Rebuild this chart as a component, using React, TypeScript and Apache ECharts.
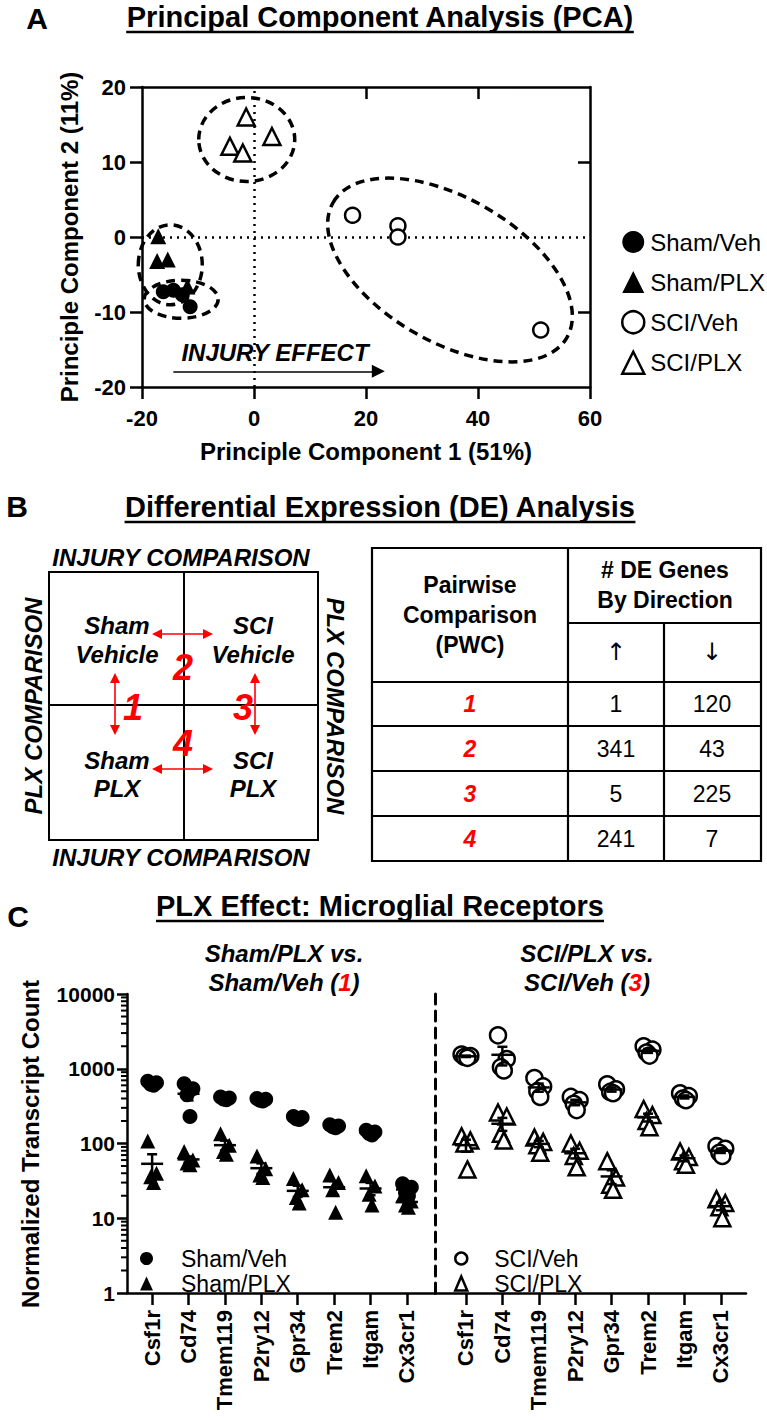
import React, { useEffect, useRef } from "react";
import * as echarts from "echarts";

const FONT = 'Arial, "Liberation Sans", Helvetica, sans-serif';
const RED = "#ff0000";

// ---------- Panel A: PCA scores (PC1, PC2) ----------
const pcaShamVeh = [[-16.2, -7.3], [-14.4, -7.1], [-12.8, -7.7], [-11.4, -9.3]];
const pcaShamPlx = [[-17.1, 0.1], [-17.3, -3.2], [-15.4, -3.0], [-11.9, -6.6]];
const pcaSciVeh = [[17.6, 2.9], [25.7, 1.5], [25.7, 0.0], [51.2, -12.4]];
const pcaSciPlx = [[-1.4, 16.0], [-4.3, 12.1], [-2.0, 11.2], [3.2, 13.4]];
// group outlines: centre in PC units, radii in px, rotation in degrees
const pcaGroupOutlines = [
  { cx: -1.3, cy: 13.0, rx: 48, ry: 42, rot: 0 },
  { cx: -14.95, cy: -3.7, rx: 32, ry: 40, rot: 0 },
  { cx: -13.0, cy: -8.3, rx: 37, ry: 19, rot: 0 },
  { cx: 35.0, cy: -4.4, rx: 135, ry: 72, rot: -30 },
];
const injuryArrowFrom = [-14.4, -17.9];
const injuryArrowTo = [22.2, -17.9];

// ---------- Panel B: DE table ----------
const pwcIds = ["1", "2", "3", "4"];
const deUp = [1, 341, 5, 241];
const deDown = [120, 43, 225, 7];

// ---------- Panel C: normalized transcript counts ----------
const genes = ["Csf1r", "Cd74", "Tmem119", "P2ry12", "Gpr34", "Trem2", "Itgam", "Cx3cr1"];
const shamVeh = [
  [680, 650, 620, 600], [630, 540, 450, 230], [420, 405, 395, 385], [400, 390, 380, 370],
  [230, 222, 215, 210], [178, 172, 168, 162], [150, 142, 136, 130], [29, 26, 22, 20],
];
const shamPlx = [
  [108, 40, 36, 30], [78, 60, 55, 52], [135, 95, 78, 72], [68, 46, 38, 35],
  [34, 24, 19, 16], [38, 30, 24, 12], [37, 27, 21, 15], [20, 17, 15, 14],
];
const sciVeh = [
  [1550, 1480, 1440, 1400], [2800, 1350, 1050, 950], [750, 580, 500, 420], [420, 380, 340, 280],
  [620, 530, 490, 470], [2000, 1800, 1650, 1500], [470, 430, 400, 380], [92, 85, 75, 68],
];
const sciPlx = [
  [125, 110, 100, 45], [260, 230, 135, 110], [120, 105, 95, 75], [100, 80, 68, 48],
  [58, 35, 28, 24], [290, 240, 200, 165], [78, 66, 58, 52], [18, 16, 14, 10],
];
const logMinorTicks = [2, 3, 4, 5, 6, 7, 8, 9, 20, 30, 40, 50, 60, 70, 80, 90, 200, 300, 400, 500, 600, 700, 800, 900, 2000, 3000, 4000, 5000, 6000, 7000, 8000, 9000];

const JITTER = [-0.12, 0.12, -0.04, 0.04];
const CL_MIN = -0.69, CL_MAX = 7.77, CR_MIN = -0.85, CR_MAX = 7.69;

function toPoints(vals: number[][]) {
  return vals.flatMap((reps, i) => reps.map((v, j) => [i + JITTER[j], v]));
}
function toMeanSem(vals: number[][]) {
  return vals.map((reps, i) => {
    const n = reps.length;
    const m = reps.reduce((a, b) => a + b, 0) / n;
    const sd = Math.sqrt(reps.reduce((a, b) => a + (b - m) * (b - m), 0) / (n - 1));
    return [i, m, sd / Math.sqrt(n)];
  });
}

const meanRender = (params: any, api: any) => {
  const x = api.value(0), m = api.value(1), s = api.value(2);
  const c = api.coord([x, m]);
  const t = api.coord([x, m + s]);
  const b = api.coord([x, Math.max(m - s, 1.0001)]);
  const st = { stroke: "#000", lineWidth: 2.5 };
  return {
    type: "group",
    children: [
      { type: "line", shape: { x1: c[0] - 11, y1: c[1], x2: c[0] + 11, y2: c[1] }, style: st },
      { type: "line", shape: { x1: c[0], y1: t[1], x2: c[0], y2: b[1] }, style: st },
      { type: "line", shape: { x1: c[0] - 5, y1: t[1], x2: c[0] + 5, y2: t[1] }, style: st },
      { type: "line", shape: { x1: c[0] - 5, y1: b[1], x2: c[0] + 5, y2: b[1] }, style: st },
    ],
  };
};

// ---------- graphic helpers ----------
function T(x: number, y: number, text: string, size: number, o: any = {}) {
  const style: any = {
    text, x: 0, y: 0, fill: o.color || "#000", fontSize: size,
    fontWeight: o.bold ? "bold" : "normal", fontStyle: o.italic ? "italic" : "normal",
    fontFamily: o.family || FONT, align: o.align || "center", verticalAlign: "middle",
  };
  if (o.rich) style.rich = o.rich;
  return { type: "text", x, y, rotation: o.rotation || 0, silent: true, z: 100, style };
}
function L(x1: number, y1: number, x2: number, y2: number, w = 2, color = "#000") {
  return { type: "line", silent: true, z: 90, shape: { x1, y1, x2, y2 }, style: { stroke: color, lineWidth: w } };
}
function redArrow(x1: number, y1: number, x2: number, y2: number) {
  const horiz = y1 === y2;
  const h = 10, w = 5;
  const els: any[] = [];
  if (horiz) {
    els.push(L(x1 + h - 2, y1, x2 - h + 2, y2, 1.6, RED));
    els.push({ type: "polygon", silent: true, z: 90, shape: { points: [[x1, y1], [x1 + h, y1 - w], [x1 + h, y1 + w]] }, style: { fill: RED } });
    els.push({ type: "polygon", silent: true, z: 90, shape: { points: [[x2, y2], [x2 - h, y2 - w], [x2 - h, y2 + w]] }, style: { fill: RED } });
  } else {
    els.push(L(x1, y1 + h - 2, x2, y2 - h + 2, 1.6, RED));
    els.push({ type: "polygon", silent: true, z: 90, shape: { points: [[x1, y1], [x1 - w, y1 + h], [x1 + w, y1 + h]] }, style: { fill: RED } });
    els.push({ type: "polygon", silent: true, z: 90, shape: { points: [[x2, y2], [x2 - w, y2 - h], [x2 + w, y2 - h]] }, style: { fill: RED } });
  }
  return els;
}
function measure(text: string, font: string) {
  const c = document.createElement("canvas").getContext("2d")!;
  c.font = font;
  return c.measureText(text).width;
}
function titleWithUnderline(cx: number, cy: number, text: string, uy: number) {
  const w = measure(text, `bold 29px ${FONT}`);
  return [T(cx, cy, text, 29, { bold: true }), L(cx - w / 2, uy, cx + w / 2, uy, 2.5)];
}

function buildGraphics() {
  const g: any[] = [];
  // Panel letters and titles
  g.push(T(37, 18, "A", 30, { bold: true }));
  g.push(T(17, 506, "B", 30, { bold: true }));
  g.push(T(18, 916, "C", 30, { bold: true }));
  g.push(...titleWithUnderline(380, 17, "Principal Component Analysis (PCA)", 32));
  g.push(...titleWithUnderline(380, 507, "Differential Expression (DE) Analysis", 522));
  g.push(...titleWithUnderline(380, 906, "PLX Effect: Microglial Receptors", 921));

  // Panel A annotations
  g.push(T(69, 237, "Principle Component 2 (11%)", 24, { bold: true, rotation: Math.PI / 2 }));
  g.push(T(366, 451, "Principle Component 1 (51%)", 24, { bold: true }));
  g.push(T(275, 352, "INJURY EFFECT", 24, { bold: true, italic: true }));

  // Panel B quadrant diagram
  g.push({ type: "rect", silent: true, z: 90, shape: { x: 49, y: 572, width: 269, height: 268 }, style: { fill: "none", stroke: "#000", lineWidth: 2 } });
  g.push(L(184, 572, 184, 840, 2));
  g.push(L(49, 705, 318, 705, 2));
  g.push(T(181, 557, "INJURY COMPARISON", 24, { bold: true, italic: true }));
  g.push(T(181, 857, "INJURY COMPARISON", 24, { bold: true, italic: true }));
  g.push(T(33, 706, "PLX COMPARISON", 24, { bold: true, italic: true, rotation: Math.PI / 2 }));
  g.push(T(335, 706, "PLX COMPARISON", 24, { bold: true, italic: true, rotation: -Math.PI / 2 }));
  const q = { bold: true, italic: true };
  g.push(T(117, 625, "Sham", 24, q), T(117, 654, "Vehicle", 24, q));
  g.push(T(253, 625, "SCI", 24, q), T(253, 654, "Vehicle", 24, q));
  g.push(T(117, 760, "Sham", 24, q), T(117, 788, "PLX", 24, q));
  g.push(T(253, 760, "SCI", 24, q), T(253, 788, "PLX", 24, q));
  g.push(...redArrow(152, 634, 213, 634));
  g.push(...redArrow(152, 769, 213, 769));
  g.push(...redArrow(115, 673, 115, 735));
  g.push(...redArrow(255, 673, 255, 735));
  const rq = { bold: true, italic: true, color: RED };
  g.push(T(183, 667, "2", 36, rq), T(133, 707, "1", 36, rq), T(243, 707, "3", 36, rq), T(183, 743, "4", 36, rq));

  // Panel B table
  const xs = [372, 568, 664, 761];
  const rows = [682, 726, 771, 816, 861];
  g.push({ type: "rect", silent: true, z: 90, shape: { x: 372, y: 548, width: 389, height: 313 }, style: { fill: "none", stroke: "#000", lineWidth: 2.2 } });
  g.push(L(xs[1], 548, xs[1], 861, 2.2));
  g.push(L(xs[2], 623, xs[2], 861, 2.2));
  g.push(L(xs[1], 623, xs[3], 623, 2.2));
  rows.slice(0, 4).forEach((y) => g.push(L(372, y, 761, y, 2.2)));
  g.push(T(470, 585, "Pairwise", 23, { bold: true }), T(470, 615, "Comparison", 23, { bold: true }), T(470, 645, "(PWC)", 23, { bold: true }));
  g.push(T(665, 570, "# DE Genes", 23, { bold: true }), T(665, 600, "By Direction", 23, { bold: true }));
  const arrowFamily = '"DejaVu Sans", "Liberation Sans", sans-serif';
  g.push(T(616, 652, "\u2191", 24, { family: arrowFamily }), T(712, 652, "\u2193", 24, { family: arrowFamily }));
  pwcIds.forEach((id, i) => {
    const cy = (rows[i] + rows[i + 1]) / 2;
    g.push(T(470, cy, id, 23, { bold: true, italic: true, color: RED }));
    g.push(T(616, cy, String(deUp[i]), 23));
    g.push(T(712, cy, String(deDown[i]), 23));
  });

  // Panel C headings
  const rich = {
    b: { fontSize: 24, fontWeight: "bold", fontStyle: "italic", fontFamily: FONT, fill: "#000", color: "#000" },
    r: { fontSize: 24, fontWeight: "bold", fontStyle: "italic", fontFamily: FONT, fill: RED, color: RED },
  };
  g.push(T(284, 953, "Sham/PLX vs.", 24, { bold: true, italic: true }));
  g.push(T(284, 982, "{b|Sham/Veh (}{r|1}{b|)}", 24, { bold: true, italic: true, rich }));
  g.push(T(587, 953, "SCI/PLX vs.", 24, { bold: true, italic: true }));
  g.push(T(587, 982, "{b|SCI/Veh (}{r|3}{b|)}", 24, { bold: true, italic: true, rich }));
  g.push(T(30, 1144, "Normalized Transcript Count", 24, { bold: true, rotation: Math.PI / 2 }));
  return g;
}

const black = "#000";
const axisLineA = { show: true, onZero: false, lineStyle: { color: black, width: 2.5 } };
const labelBold = (size: number, margin: number) => ({ color: black, fontSize: size, fontWeight: "bold", fontFamily: FONT, margin });

const filledStyle = { color: black, opacity: 1 };
const openStyle = { color: "#fff", borderColor: black, borderWidth: 2.5, opacity: 1 };

const option: any = {
  animation: false,
  backgroundColor: "#fff",
  grid: [
    { left: 142, top: 87, width: 448, height: 300 },
    { left: 127, top: 994, width: 308, height: 299 },
    { left: 435, top: 994, width: 311, height: 299 },
  ],
  xAxis: [
    {
      gridIndex: 0, type: "value", min: -20, max: 60, interval: 20, position: "bottom",
      axisLine: axisLineA, axisTick: { show: true, length: 12, lineStyle: { color: black, width: 2.5 } },
      axisLabel: labelBold(22, 20), splitLine: { show: false },
    },
    {
      gridIndex: 0, type: "value", min: -20, max: 60, interval: 20, position: "top",
      axisLine: axisLineA, axisTick: { show: true, inside: true, length: 12, customValues: [20, 40], lineStyle: { color: black, width: 2.5 } },
      axisLabel: { show: false }, splitLine: { show: false },
    },
    {
      gridIndex: 1, type: "value", min: CL_MIN, max: CL_MAX, position: "bottom",
      axisLine: axisLineA,
      axisTick: { show: true, length: 12, customValues: genes.map((_, i) => i), lineStyle: { color: black, width: 2.5 } },
      axisLabel: { ...labelBold(22, 17), rotate: 90, customValues: genes.map((_, i) => i), formatter: (v: number) => genes[Math.round(v)] ?? "" },
      splitLine: { show: false },
    },
    {
      gridIndex: 2, type: "value", min: CR_MIN, max: CR_MAX, position: "bottom",
      axisLine: axisLineA,
      axisTick: { show: true, length: 12, customValues: genes.map((_, i) => i), lineStyle: { color: black, width: 2.5 } },
      axisLabel: { ...labelBold(22, 17), rotate: 90, customValues: genes.map((_, i) => i), formatter: (v: number) => genes[Math.round(v)] ?? "" },
      splitLine: { show: false },
    },
  ],
  yAxis: [
    {
      gridIndex: 0, type: "value", min: -20, max: 20, interval: 10, position: "left",
      axisLine: axisLineA, axisTick: { show: true, length: 12, lineStyle: { color: black, width: 2.5 } },
      axisLabel: labelBold(22, 16), splitLine: { show: false },
    },
    {
      gridIndex: 0, type: "value", min: -20, max: 20, interval: 10, position: "right",
      axisLine: axisLineA, axisTick: { show: true, inside: true, length: 12, customValues: [-10, 10], lineStyle: { color: black, width: 2.5 } },
      axisLabel: { show: false }, splitLine: { show: false },
    },
    {
      gridIndex: 1, type: "log", logBase: 10, min: 1, max: 10000, position: "left",
      axisLine: axisLineA, axisTick: { show: true, length: 10, lineStyle: { color: black, width: 2.5 } },
      axisLabel: { ...labelBold(21, 12), formatter: (v: number) => String(Math.round(v)) },
      splitLine: { show: false },
    },
    {
      gridIndex: 2, type: "log", logBase: 10, min: 1, max: 10000, position: "left",
      axisLine: { show: true, onZero: false, lineStyle: { color: black, width: 3, type: [10, 7] } },
      axisTick: { show: false }, axisLabel: { show: false }, splitLine: { show: false },
    },
  ],
  legend: [
    {
      orient: "vertical", left: 616, top: 225, itemWidth: 22, itemHeight: 22, itemGap: 16, selectedMode: false,
      textStyle: { fontSize: 24, fontFamily: FONT, color: black, padding: [0, 0, 0, 1] },
      data: [
        { name: "Sham/Veh", icon: "circle", itemStyle: { color: black, borderWidth: 0 } },
        { name: "Sham/PLX", icon: "triangle", itemStyle: { color: black, borderWidth: 0 } },
        { name: "SCI/Veh", icon: "circle", itemStyle: { color: "#fff", borderColor: black, borderWidth: 2.5 } },
        { name: "SCI/PLX", icon: "triangle", itemStyle: { color: "#fff", borderColor: black, borderWidth: 2.5 } },
      ],
    },
    {
      orient: "vertical", left: 135, top: 1242, itemWidth: 13, itemHeight: 14, itemGap: 2, selectedMode: false,
      textStyle: { fontSize: 23, fontFamily: FONT, color: black, padding: [0, 0, 0, 23] },
      data: [
        { name: "Sham/Veh", icon: "circle", itemStyle: { color: black, borderWidth: 0 } },
        { name: "Sham/PLX", icon: "triangle", itemStyle: { color: black, borderWidth: 0 } },
      ],
    },
    {
      orient: "vertical", left: 449, top: 1242, itemWidth: 12, itemHeight: 14, itemGap: 2, selectedMode: false,
      textStyle: { fontSize: 23, fontFamily: FONT, color: black, padding: [0, 0, 0, 22] },
      data: [
        { name: "SCI/Veh", icon: "circle", itemStyle: { color: "#fff", borderColor: black, borderWidth: 2.5 } },
        { name: "SCI/PLX", icon: "triangle", itemStyle: { color: "#fff", borderColor: black, borderWidth: 2.5 } },
      ],
    },
  ],
  series: [
    // Panel A
    {
      name: "Sham/Veh", type: "scatter", xAxisIndex: 0, yAxisIndex: 0, data: pcaShamVeh,
      symbol: "circle", symbolSize: 15, itemStyle: filledStyle, z: 10,
      markLine: {
        silent: true, symbol: "none", label: { show: false },
        lineStyle: { color: black, width: 2.5, type: [2, 5], opacity: 1 },
        data: [{ xAxis: 0 }, { yAxis: 0 }],
      },
    },
    { name: "Sham/PLX", type: "scatter", xAxisIndex: 0, yAxisIndex: 0, data: pcaShamPlx, symbol: "triangle", symbolSize: 16, itemStyle: filledStyle, z: 10 },
    { name: "SCI/Veh", type: "scatter", xAxisIndex: 0, yAxisIndex: 0, data: pcaSciVeh, symbol: "circle", symbolSize: 15, itemStyle: openStyle, z: 10 },
    {
      name: "SCI/PLX", type: "scatter", xAxisIndex: 0, yAxisIndex: 0, data: pcaSciPlx, symbol: "triangle", symbolSize: 17, itemStyle: openStyle, z: 10,
      markLine: {
        silent: true, symbol: ["none", "triangle"], symbolSize: 13, label: { show: false },
        itemStyle: { color: black },
        lineStyle: { color: black, width: 1.5, type: "solid", opacity: 1 },
        data: [[{ coord: injuryArrowFrom }, { coord: injuryArrowTo }]],
      },
    },
    // Panel C left
    { name: "Sham/Veh", type: "scatter", xAxisIndex: 2, yAxisIndex: 2, data: toPoints(shamVeh), symbol: "circle", symbolSize: 15, itemStyle: filledStyle, z: 5 },
    { name: "Sham/PLX", type: "scatter", xAxisIndex: 2, yAxisIndex: 2, data: toPoints(shamPlx), symbol: "triangle", symbolSize: 15, itemStyle: filledStyle, z: 5 },
    { name: "Sham/Veh mean", type: "custom", xAxisIndex: 2, yAxisIndex: 2, data: toMeanSem(shamVeh), renderItem: meanRender, z: 8, silent: true },
    { name: "Sham/PLX mean", type: "custom", xAxisIndex: 2, yAxisIndex: 2, data: toMeanSem(shamPlx), renderItem: meanRender, z: 8, silent: true },
    {
      name: "minor ticks", type: "custom", xAxisIndex: 2, yAxisIndex: 2, silent: true, z: 8,
      data: logMinorTicks.map((v) => [CL_MIN, v]),
      renderItem: (p: any, api: any) => {
        const c = api.coord([api.value(0), api.value(1)]);
        return { type: "line", shape: { x1: c[0] - 6, y1: c[1], x2: c[0], y2: c[1] }, style: { stroke: black, lineWidth: 2 } };
      },
    },
    // Panel C right
    { name: "SCI/Veh", type: "scatter", xAxisIndex: 3, yAxisIndex: 3, data: toPoints(sciVeh), symbol: "circle", symbolSize: 16, itemStyle: openStyle, z: 5 },
    { name: "SCI/PLX", type: "scatter", xAxisIndex: 3, yAxisIndex: 3, data: toPoints(sciPlx), symbol: "triangle", symbolSize: 16, itemStyle: openStyle, z: 5 },
    { name: "SCI/Veh mean", type: "custom", xAxisIndex: 3, yAxisIndex: 3, data: toMeanSem(sciVeh), renderItem: meanRender, z: 8, silent: true },
    { name: "SCI/PLX mean", type: "custom", xAxisIndex: 3, yAxisIndex: 3, data: toMeanSem(sciPlx), renderItem: meanRender, z: 8, silent: true },
  ],
};

export default function App() {
  const ref = useRef<HTMLDivElement>(null);
  useEffect(() => {
    const chart = echarts.init(ref.current!, null, { renderer: "svg" });
    const base = buildGraphics();
    chart.setOption({ ...option, graphic: base });
    const outlines = pcaGroupOutlines.map((e) => {
      const p = chart.convertToPixel({ gridIndex: 0 }, [e.cx, e.cy]) as number[];
      return {
        type: "ellipse", silent: true, z: 50, x: p[0], y: p[1], rotation: (e.rot * Math.PI) / 180,
        shape: { cx: 0, cy: 0, rx: e.rx, ry: e.ry },
        style: { fill: "none", stroke: black, lineWidth: 3.5, lineDash: [9, 6] },
      };
    });
    chart.setOption({ graphic: [...base, ...outlines] });
    return () => chart.dispose();
  }, []);
  return <div ref={ref} style={{ position: "absolute", left: 0, top: 0, width: 767, height: 1420, background: "#fff" }} />;
}
